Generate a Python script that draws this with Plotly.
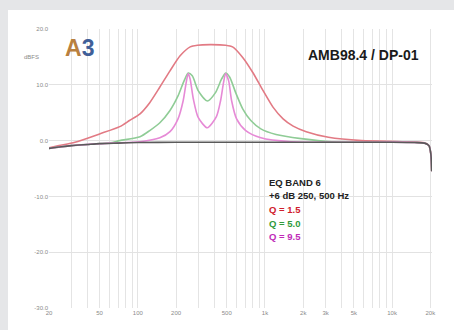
import plotly.graph_objects as go

# ---- data ----
flat_f = [20, 25, 30, 40, 50, 70, 100, 200, 500, 1000, 2000, 5000, 10000, 15000, 18000, 19500, 20200, 20500]
flat_db = [-1.4, -1.1, -0.9, -0.7, -0.55, -0.45, -0.35, -0.3, -0.3, -0.3, -0.3, -0.3, -0.3, -0.35, -0.45, -0.9, -2.5, -5.5]

red_f = [20, 24, 32, 50, 72, 86, 104, 124, 149, 179, 215, 258, 294, 370, 490, 556, 668, 802, 964,
         1156, 1388, 1666, 2112, 3158, 5770, 12000, 18000, 19500, 20200, 20500]
red_db = [-1.3, -0.9, -0.3, 1.2, 2.5, 3.6, 4.8, 6.8, 9.6, 12.5, 15.2, 16.8, 17.1, 17.2, 17.1, 16.8, 14.9, 12.2, 9.0,
          6.0, 3.9, 2.6, 1.6, 0.6, 0.0, -0.2, -0.4, -0.9, -2.5, -5.5]

green_f = [20, 30, 60, 72, 104, 124, 149, 179, 207, 231, 249, 268, 299, 352, 408, 455, 490, 527, 588, 668,
           774, 928, 1222, 1928, 3336, 10000, 18000, 19500, 20200, 20500]
green_db = [-1.4, -0.9, -0.4, 0.0, 0.7, 1.8, 3.2, 5.4, 8.0, 10.7, 12.1, 11.6, 8.9, 7.1, 8.6, 11.0, 12.1, 11.4, 8.6, 5.7,
            3.6, 2.1, 1.1, 0.36, -0.2, -0.3, -0.45, -0.9, -2.5, -5.5]

mag_f = [20, 30, 60, 104, 149, 179, 207, 227, 240, 249, 258, 273, 299, 352, 415, 447, 472, 490, 518, 547,
         598, 706, 928, 1606, 5000, 18000, 19500, 20200, 20500]
mag_db = [-1.4, -0.9, -0.45, -0.2, 0.5, 1.6, 3.9, 7.1, 10.4, 12.0, 11.0, 7.5, 4.1, 2.3, 4.3, 7.1, 10.4, 12.0, 10.7, 7.1,
          3.9, 1.8, 0.5, -0.2, -0.3, -0.45, -0.9, -2.5, -5.5]

x_grid = [20, 30, 40, 50, 60, 70, 80, 90, 100, 200, 300, 400, 500, 600, 700, 800, 900,
          1000, 2000, 3000, 4000, 5000, 6000, 7000, 8000, 9000, 10000, 20000]
x_labels = {20: "20", 50: "50", 100: "100", 200: "200", 500: "500", 1000: "1k", 2000: "2k",
            3000: "3k", 5000: "5k", 10000: "10k", 20000: "20k"}
y_ticks = [20, 10, 0, -10, -20, -30]
y_labels = ["20.0", "10.0", "0.0", "-10.0", "-20.0", "-30.0"]

legend_lines = [("EQ BAND 6", "#222222"), ("+6 dB 250, 500 Hz", "#222222"),
                ("Q = 1.5", "#d0202c"), ("Q = 5.0", "#2f9a3c"), ("Q = 9.5", "#c02ab8")]

fig = go.Figure()
for f, d, c in [(red_f, red_db, "#e27a84"), (green_f, green_db, "#8fcc96"), (mag_f, mag_db, "#e68ad6"),
                (flat_f, flat_db, "#5a5a5a")]:
    fig.add_trace(go.Scatter(x=f, y=d, mode="lines", line=dict(color=c, width=1.6, shape="spline", smoothing=0.7),
                             hoverinfo="skip", showlegend=False))

fig.update_layout(
    width=454, height=330,
    margin=dict(l=49, r=22, t=29, b=22, autoexpand=False),
    paper_bgcolor="white", plot_bgcolor="white",
    font=dict(family="Liberation Sans", size=6, color="#8a8a8a"),
    xaxis=dict(type="log", range=[1.30103, 4.3139], tickvals=x_grid,
               ticktext=[x_labels.get(v, "") for v in x_grid], automargin=False,
               showgrid=True, gridcolor="#e4e4e4", gridwidth=1, zeroline=False,
               showline=False, ticks="", tickfont=dict(size=6, color="#8a8a8a")),
    yaxis=dict(range=[-30, 20], tickvals=y_ticks, ticktext=y_labels, automargin=False,
               showgrid=True, gridcolor="#e2e2e2", gridwidth=1, zeroline=False,
               showline=False, ticks="", tickfont=dict(size=6, color="#8a8a8a")),
)

# gray frame strips (top and left)
fig.add_shape(type="rect", xref="paper", yref="paper", x0=-49/383, x1=405/383, y0=1 + 19/279, y1=1 + 29/279,
              fillcolor="#e5e6e8", line_width=0, layer="above")
fig.add_shape(type="rect", xref="paper", yref="paper", x0=-49/383, x1=-41/383, y0=-22/279, y1=1 + 29/279,
              fillcolor="#e5e6e8", line_width=0, layer="above")

fig.add_annotation(xref="paper", yref="paper", x=-8/383, y=(308 - 57)/279, text="dBFS", showarrow=False,
                   xanchor="right", yanchor="middle", font=dict(size=6, color="#8a8a8a"))

# logo
fig.add_annotation(xref="paper", yref="paper", x=(63 - 49)/383, y=(308 - 48)/279,
                   text="<b><span style='color:#b9803f'>A</span><span style='color:#3f5f98'>3</span></b>",
                   showarrow=False, xanchor="left", yanchor="middle",
                   font=dict(size=23, family="Liberation Sans Narrow, Liberation Sans"))

# title
fig.add_annotation(xref="paper", yref="paper", x=(421 - 49)/383, y=(308 - 55)/279, text="<b>AMB98.4 / DP-01</b>",
                   showarrow=False, xanchor="right", yanchor="middle",
                   font=dict(size=14, color="#1a1a1a", family="Liberation Sans Narrow, Liberation Sans"))

for i, (t, c) in enumerate(legend_lines):
    fig.add_annotation(xref="paper", yref="paper", x=(267 - 49)/383, y=(308 - (182 + i*13.7))/279,
                       text="<b>" + t + "</b>", showarrow=False, xanchor="left", yanchor="middle",
                       font=dict(size=9.5, color=c, family="Liberation Sans Narrow, Liberation Sans"))

fig.write_html("out.html", config={"displayModeBar": False},
               post_script="document.body.style.margin='0';")
